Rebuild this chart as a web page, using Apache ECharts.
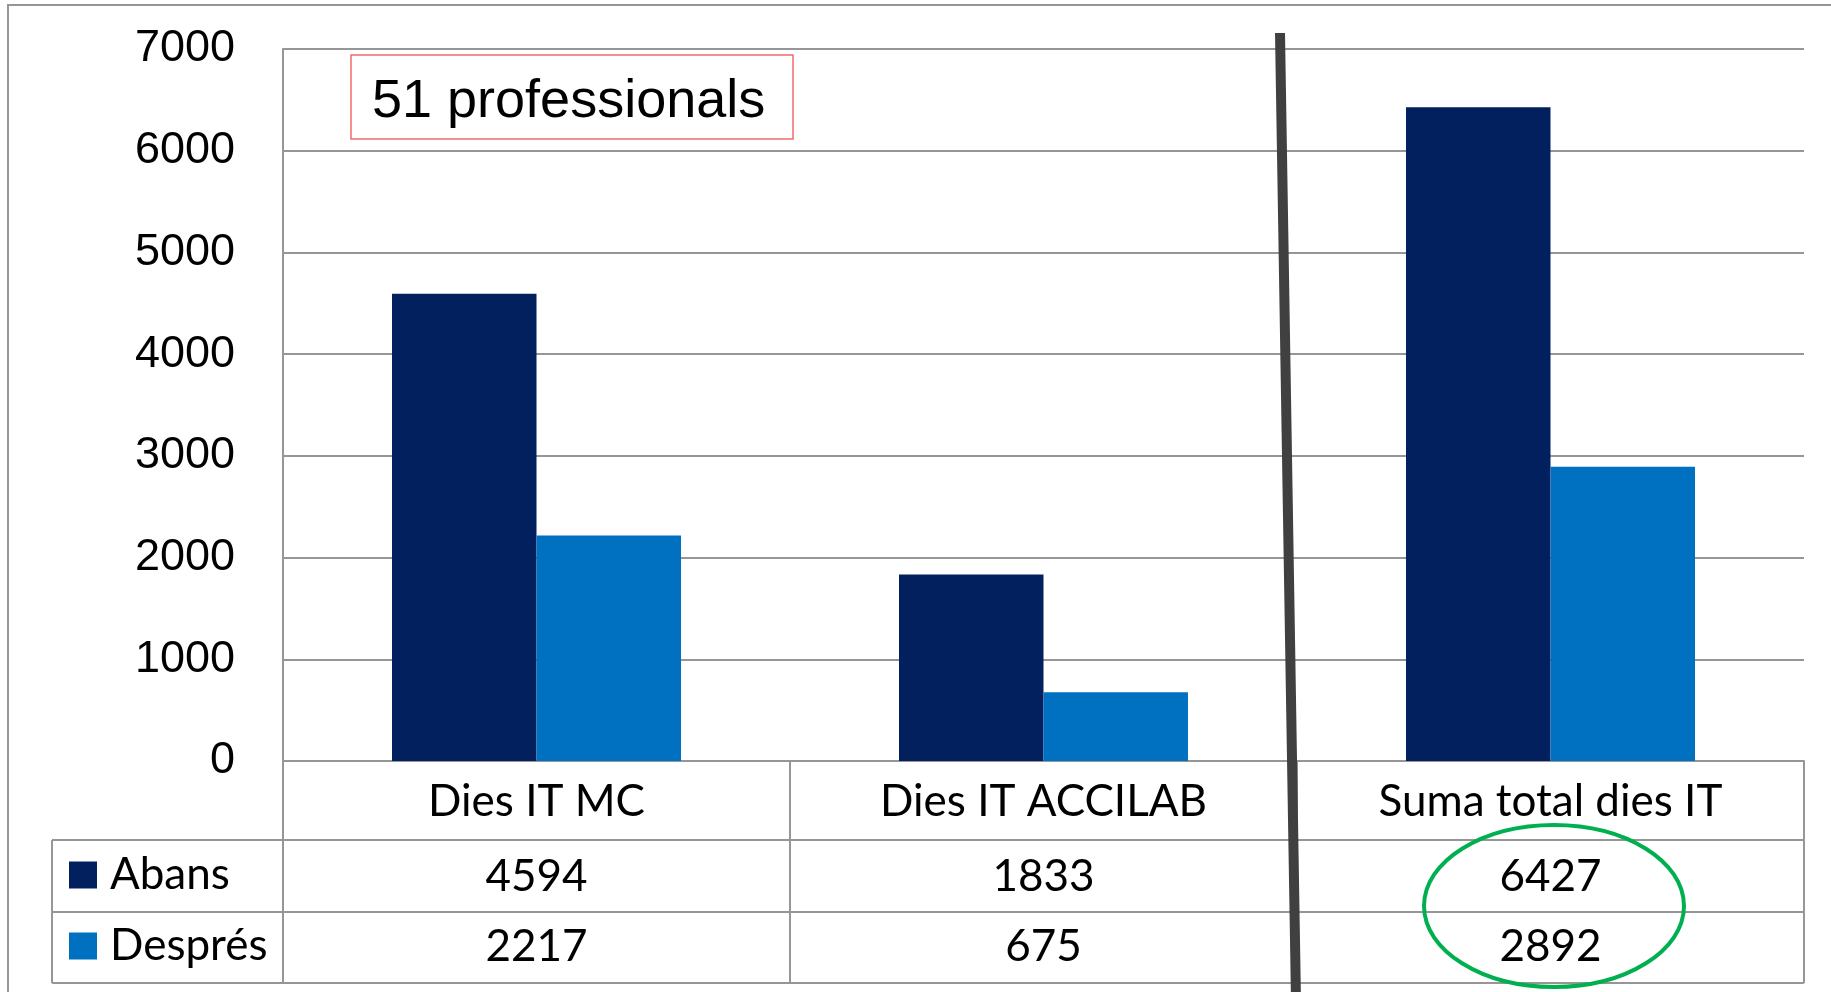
<!DOCTYPE html>
<html><head><meta charset="utf-8">
<script src="https://cdn.jsdelivr.net/npm/echarts@6/dist/echarts.min.js"></script>
<style>html,body{margin:0;padding:0;background:#fff}#c{width:1831px;height:992px}</style>
</head><body><div id="c"></div>
<script>
const categories = ['Dies IT MC', 'Dies IT ACCILAB', 'Suma total dies IT'];
const abans = [4594, 1833, 6427];
const despres = [2217, 675, 2892];
const seriesNames = ['Abans', 'Després'];
const yTicks = { min: 0, max: 7000, interval: 1000 };
const note = '51 professionals';

const GRAY = '#969696';
const tableFont = { fontFamily: 'Lato', fontSize: 44, color: '#000' };
const chart = echarts.init(document.getElementById('c'), null, { renderer: 'canvas' });

function hline(y, x1, x2) { return { type: 'line', shape: { x1, y1: y, x2, y2: y }, style: { stroke: GRAY, lineWidth: 2 }, z: 5 }; }

chart.setOption({
  animation: false,
  backgroundColor: '#fff',
  title: {
    text: note, left: 351, top: 55,
    borderColor: '#f26b6b', borderWidth: 1.5,
    padding: [20, 28, 10, 21],
    textStyle: { fontFamily: 'Liberation Sans', fontSize: 54, fontWeight: 'normal', color: '#000', lineHeight: 54 }
  },
  legend: {
    data: seriesNames, orient: 'vertical', left: 69, top: 853, padding: 0,
    icon: 'rect', itemWidth: 28, itemHeight: 27, itemGap: 27,
    textStyle: Object.assign({ lineHeight: 44, padding: [0, 0, 0, 8] }, tableFont)
  },
  grid: { left: 283, top: 49, right: 27, bottom: 231, containLabel: false },
  xAxis: [
    { type: 'category', data: categories, position: 'bottom',
      axisLine: { lineStyle: { color: GRAY, width: 2 } },
      axisTick: { show: true, length: 222, lineStyle: { color: GRAY, width: 2 } },
      axisLabel: Object.assign({ margin: 41, verticalAlign: 'middle' }, tableFont) },
    { type: 'category', data: abans.map(String), position: 'bottom',
      axisLine: { show: false }, axisTick: { show: false },
      axisLabel: Object.assign({ margin: 116, verticalAlign: 'middle' }, tableFont) },
    { type: 'category', data: despres.map(String), position: 'bottom',
      axisLine: { show: false }, axisTick: { show: false },
      axisLabel: Object.assign({ margin: 186, verticalAlign: 'middle' }, tableFont) }
  ],
  yAxis: {
    type: 'value', min: yTicks.min, max: yTicks.max, interval: yTicks.interval,
    axisLine: { show: true, lineStyle: { color: GRAY, width: 2 } },
    axisTick: { show: false },
    splitLine: { lineStyle: { color: GRAY, width: 2 } },
    axisLabel: { margin: 48, fontFamily: 'Liberation Sans', fontSize: 45, color: '#000', formatter: v => String(v) }
  },
  series: [
    { name: seriesNames[0], type: 'bar', data: abans, xAxisIndex: 0, barGap: '0%', barCategoryGap: '43%',
      itemStyle: { color: '#03205E' } },
    { name: seriesNames[1], type: 'bar', data: despres, xAxisIndex: 0, barGap: '0%', barCategoryGap: '43%',
      itemStyle: { color: '#0070C0' } }
  ],
  graphic: [
    { type: 'rect', shape: { x: 8, y: 5, width: 3000, height: 3000 }, style: { fill: 'none', stroke: GRAY, lineWidth: 2 }, z: 1, silent: true },
    hline(840, 52, 1804), hline(912, 52, 1804), hline(983, 52, 1804),
    { type: 'line', shape: { x1: 52, y1: 840, x2: 52, y2: 983 }, style: { stroke: GRAY, lineWidth: 2 }, z: 5 },
    { type: 'line', shape: { x1: 1280, y1: 33, x2: 1296, y2: 1000 }, style: { stroke: '#404040', lineWidth: 10 }, z: 50 },
    { type: 'ellipse', shape: { cx: 1554, cy: 906, rx: 130, ry: 81 }, style: { fill: 'none', stroke: '#00B050', lineWidth: 4 }, z: 50 }
  ]
});
</script></body></html>
